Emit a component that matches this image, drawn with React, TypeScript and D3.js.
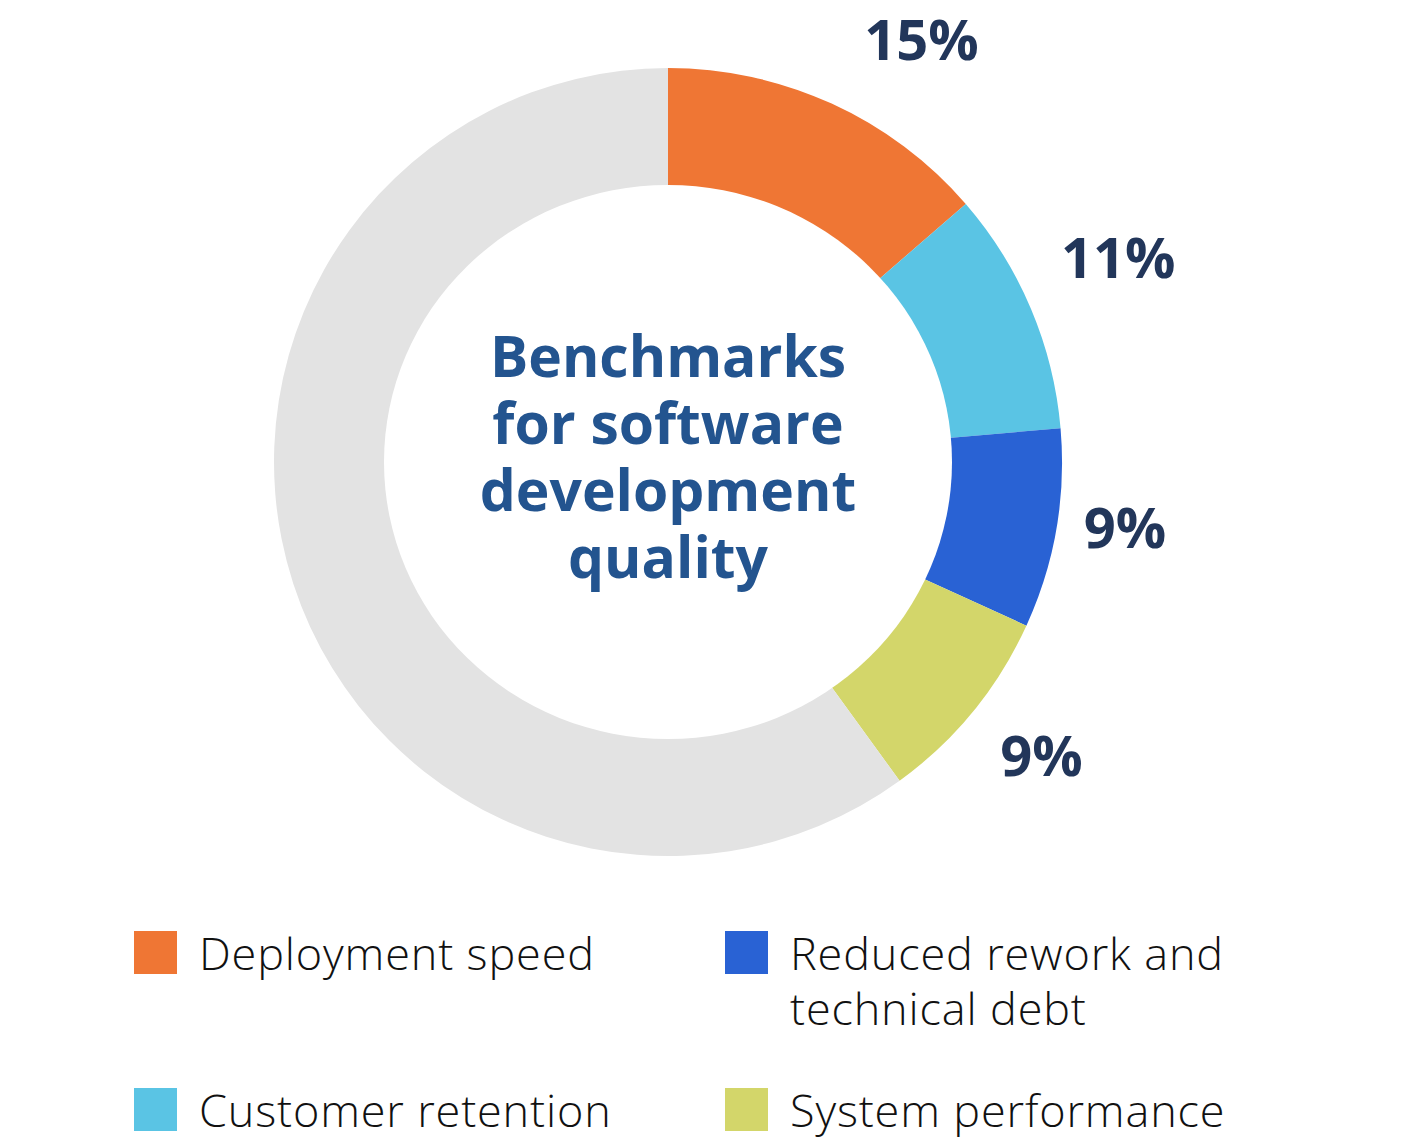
import React from "react";
import * as d3 from "d3";

const categories = ["Deployment speed", "Customer retention", "Reduced rework and technical debt", "System performance"];
const values = [15, 11, 9, 9];
const remainderValue = 66;
const valueLabels = ["15%", "11%", "9%", "9%"];
const colors = ["#EF7634", "#5AC4E4", "#2962D4", "#D3D66A"];
const remainderColor = "#E3E3E3";
const titleLines = ["Benchmarks", "for software", "development", "quality"];
const legendLines = [["Deployment speed"], ["Customer retention"], ["Reduced rework and", "technical debt"], ["System performance"]];

const W = 1412;
const H = 1148;
const cx = 668;
const cy = 462;
const outerR = 394;
const innerRx = 284;
const innerRy = 277;
const labelR = 480;
const labelNudge: [number, number][] = [[54, 14], [8, -17], [-16, -16], [2, -10]];

type Slice = { name: string; value: number; color: string; idx: number };

export default function App() {
  const slices: Slice[] = [
    ...categories.map((c, i) => ({ name: c, value: values[i], color: colors[i], idx: i })),
    { name: "Other", value: remainderValue, color: remainderColor, idx: -1 },
  ];
  const pie = d3.pie<Slice>().value((d) => d.value).sort(null);
  const arcs = pie(slices);
  const arc = d3.arc<d3.PieArcDatum<Slice>>().innerRadius(innerRy - 4).outerRadius(outerR);
  const labelArc = d3.arc<d3.PieArcDatum<Slice>>().innerRadius(labelR).outerRadius(labelR);

  const legendCols = [134, 725];
  const legendRows = [970, 1127];
  const legendPos = [
    [0, 0],
    [0, 1],
    [1, 0],
    [1, 1],
  ];

  return (
    <svg width={W} height={H} viewBox={`0 0 ${W} ${H}`} style={{ display: "block", position: "absolute", left: 0, top: 0 }}>
      <rect width={W} height={H} fill="#ffffff" />
      <g transform={`translate(${cx},${cy})`}>
        {arcs.map((a, i) => (
          <path key={i} d={arc(a) || ""} fill={a.data.color} />
        ))}
        <ellipse cx={0} cy={0} rx={innerRx} ry={innerRy} fill="#ffffff" />
        {arcs
          .filter((a) => a.data.idx >= 0)
          .map((a) => {
            const [x, y] = labelArc.centroid(a);
            const n = labelNudge[a.data.idx];
            return (
              <text
                key={a.data.name}
                x={x + n[0]}
                y={y + n[1]}
                dy="0.36em"
                textAnchor="middle"
                fontFamily="'Open Sans', sans-serif"
                fontWeight={700}
                fontSize={56}
                fill="#22365A"
              >
                {valueLabels[a.data.idx]}
              </text>
            );
          })}
        <text textAnchor="middle" fontFamily="'Open Sans', sans-serif" fontWeight={700} fontSize={57} fill="#23548F">
          {titleLines.map((t, i) => (
            <tspan key={i} x={0} y={377 - cy + i * 67}>
              {t}
            </tspan>
          ))}
        </text>
      </g>
      {categories.map((c, i) => {
        const [col, row] = legendPos[i];
        const x = legendCols[col];
        const base = legendRows[row];
        return (
          <g key={c}>
            <rect x={x} y={base - 39} width={43} height={43} fill={colors[i]} />
            <text
              x={x + 65}
              y={base}
              fontFamily="'Open Sans', sans-serif"
              fontWeight={300}
              fontSize={45}
              letterSpacing={0.85}
              fill="#111111"
            >
              {legendLines[i].map((l, j) => (
                <tspan key={j} x={x + 65} y={base + j * 55}>
                  {l}
                </tspan>
              ))}
            </text>
          </g>
        );
      })}
    </svg>
  );
}
